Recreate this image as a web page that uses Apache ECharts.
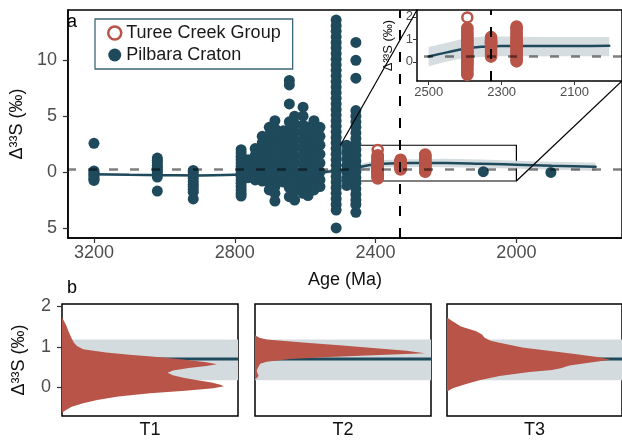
<!DOCTYPE html>
<html><head><meta charset="utf-8">
<script src="https://cdn.jsdelivr.net/npm/echarts@6/dist/echarts.min.js"></script>
<style>html,body{margin:0;padding:0;background:#fff}#c{width:622px;height:440px}</style>
</head><body><div id="c"></div>
<script>
// ---------------- DATA ----------------
// Pilbara Craton: [age (Ma), [Δ33S values]] columns
const pilbaraColumns = [
  [3200, [2.57, 0.1, -0.05, -0.2, -0.35, -0.5, -0.65, -0.75]],
  [3020, [1.25, 1.05, 0.85, 0.6, 0.4, 0.2, 0.0, -0.2, -0.45, -1.7]],
  [2918, [0.15, -0.05, -0.3, -0.55, -0.85, -1.1, -1.3, -1.55, -1.8, -2.4]],
  [2782, [2.0, 1.7, 1.4, 1.1, 0.8, 0.5, 0.2, -0.1, -0.4, -0.7, -1.0, -1.3, -1.6, -1.9, -2.15]],
  [2762, [1.1, 0.7, 0.3, -0.1, -0.5]],
  [2742, [2.1, 1.5, 0.9, 0.3, -0.3, -0.7]],
  [2722, [3.2, 2.6, 2.0, 1.4, 0.8, 0.3, -0.2, -0.8]],
  [2702, [4.0, 3.3, 2.7, 2.0, 1.4, 0.8, 0.2, -0.4, -1.0, -1.6]],
  [2686, [4.6, 3.9, 3.2, 2.5, 1.8, 1.1, 0.5, -0.1, -0.7, -1.3, -1.9, -2.6]],
  [2662, [3.7, 3.0, 2.3, 1.6, 0.9, 0.3, -0.3, -0.9]],
  [2645, [8.2, 7.8, 6.1, 4.5, 3.8, 3.1, 2.4, 1.7, 1.0, 0.4, -0.2, -0.8, -1.4, -2.2]],
  [2630, [5.0, 4.3, 3.6, 2.9, 2.2, 1.5, 0.8, 0.1, -0.5, -1.1, -1.7, -2.5]],
  [2606, [5.8, 5.0, 4.2, 3.5, 2.8, 2.1, 1.4, 0.7, 0.0, -0.6, -1.2, -1.9]],
  [2592, [4.0, 3.3, 2.6, 1.9, 1.2, 0.5, -0.2, -0.9, -1.5, -2.1]],
  [2575, [4.6, 3.9, 3.2, 2.5, 1.8, 1.1, 0.4, -0.3, -1.0, -1.6]],
  [2558, [4.0, 3.2, 2.4, 1.6, 0.8, 0.0, -0.7, -1.3]],
  [2512, [13.6, 13.1, 12.6, 12.1, 11.6, 11.1, 10.6, 10.1, 9.6, 9.1, 8.6, 8.1, 7.6, 7.1, 6.6, 6.1, 5.6, 5.1,
          4.6, 4.1, 3.6, 3.1, 2.6, 2.1, 1.6, 1.1, 0.6, 0.1, -0.4, -0.9, -1.4, -1.9, -2.4, -2.9, -3.4, -5.0]],
  [2482, [2.4, 1.8, 1.2, 0.6, 0.0, -0.6, -1.2]],
  [2456, [11.6, 10.0, 8.4, 5.5, 5.0, 4.5, 4.0, 3.5, 3.0, 2.5, 2.0, 1.5, 1.0, 0.5, 0.0, -0.5, -1.0, -1.5, -2.0, -2.5, -2.9, -3.6]],
  [2094, [0.03]],
  [1902, [-0.03]]
];

// Turee Creek Group intervals
const tureeAges = [2394, 2329, 2259];
const tureeT1 = [1.97, 1.5, 1.42, 1.34, 1.26, 1.18, 1.1, 1.02, 0.95, 0.88, 0.82, 0.76, 0.7, 0.65, 0.6, 0.55, 0.5, 0.45,
                 0.4, 0.35, 0.3, 0.25, 0.2, 0.15, 0.1, 0.05, 0.02, -0.03, -0.08, -0.14, -0.2, -0.28, -0.36, -0.44, -0.52, -0.58];
const tureeT2 = [1.1, 1.03, 0.97, 0.92, 0.88, 0.86, 0.84, 0.82, 0.8, 0.76, 0.72, 0.66, 0.6, 0.52, 0.44, 0.36, 0.3, 0.23];
const tureeT3 = [1.57, 1.5, 1.42, 1.34, 1.26, 1.18, 1.1, 1.02, 0.95, 0.88, 0.82, 0.76, 0.71, 0.67, 0.62, 0.56, 0.5,
                 0.44, 0.38, 0.3, 0.22, 0.14, 0.07, 0.02];

// Smoothed Δ33S trend (main panel)
const trendAge  = [3200, 3100, 3000, 2900, 2800, 2700, 2600, 2550, 2500, 2460, 2420, 2380, 2300, 2200, 2100, 2000, 1900, 1775];
const trendVal  = [-0.2, -0.25, -0.28, -0.3, -0.25, -0.15, -0.08, 0.0, 0.15, 0.35, 0.6, 0.75, 0.8, 0.8, 0.75, 0.66, 0.56, 0.47];
const trendLow  = [-0.32, -0.35, -0.38, -0.4, -0.35, -0.27, -0.22, -0.18, -0.08, 0.08, 0.3, 0.42, 0.45, 0.42, 0.38, 0.3, 0.2, 0.1];
const trendHigh = [-0.1, -0.15, -0.18, -0.2, -0.15, -0.03, 0.06, 0.18, 0.38, 0.62, 0.9, 1.08, 1.15, 1.18, 1.12, 1.02, 0.92, 0.84];

// Smoothed trend in the inset (2500–2000 Ma)
const insetAge  = [2500, 2450, 2400, 2350, 2300, 2200, 2100, 2005];
const insetVal  = [0.24, 0.42, 0.58, 0.67, 0.70, 0.70, 0.70, 0.71];
const insetLow  = [-0.2, 0.02, 0.18, 0.22, 0.25, 0.25, 0.25, 0.25];
const insetHigh = [0.66, 0.85, 1.05, 1.12, 1.12, 1.1, 1.1, 1.1];

const refLevel = 0.25;        // dashed horizontal reference
const boundaryAge = 2330;     // dashed vertical boundary
const zoomBox = {ageOld: 2500, ageYoung: 2000, lo: -0.8, hi: 2.4};

// Panel b: density profiles (Δ33S value, relative density)
const t1Val = [1.72, 1.6, 1.5, 1.4, 1.3, 1.2, 1.1, 1.02, 0.94, 0.86, 0.8, 0.74, 0.68, 0.62, 0.57, 0.53, 0.48, 0.42, 0.36, 0.3,
               0.24, 0.18, 0.12, 0.07, 0.03, -0.02, -0.08, -0.14, -0.22, -0.31, -0.39, -0.47, -0.55, -0.62];
const t1Den = [0.0, 0.015, 0.027, 0.035, 0.045, 0.055, 0.068, 0.085, 0.12, 0.25, 0.4, 0.56, 0.7, 0.82, 0.88, 0.82, 0.72, 0.63, 0.6, 0.63,
               0.69, 0.77, 0.85, 0.9, 0.92, 0.86, 0.7, 0.5, 0.32, 0.2, 0.12, 0.055, 0.023, 0.0];
const t2Val = [1.28, 1.22, 1.18, 1.1, 1.04, 0.97, 0.9, 0.84, 0.79, 0.74, 0.7, 0.63, 0.58, 0.5, 0.42, 0.35, 0.29, 0.24, 0.19];
const t2Den = [0.0, 0.025, 0.066, 0.29, 0.48, 0.67, 0.86, 0.966, 0.67, 0.39, 0.2, 0.066, 0.03, 0.018, 0.01, 0.014, 0.02, 0.012, 0.0];
const t3Val = [1.72, 1.62, 1.5, 1.38, 1.3, 1.22, 1.15, 1.1, 0.98, 0.9, 0.82, 0.74, 0.68, 0.62, 0.54, 0.47, 0.43, 0.38, 0.28, 0.18, 0.06, -0.02, -0.1];
const t3Den = [0.0, 0.034, 0.08, 0.167, 0.2, 0.215, 0.25, 0.30, 0.43, 0.58, 0.73, 0.87, 0.934, 0.83, 0.70, 0.65, 0.6, 0.47, 0.30, 0.185, 0.09, 0.034, 0.0];
const densityNames = ['T1', 'T2', 'T3'];
const bandB = [0.18, 1.18];
const lineB = 0.7;

const mainXTicks = [3200, 2800, 2400, 2000];
const mainYTicks = [-5, 0, 5, 10];
const insetXTicks = [2500, 2300, 2100];
const insetYTicks = [0, 1, 2];
const bYTicks = [0, 1, 2];

// ---------------- STYLE ----------------
const FONT = '"Liberation Sans", Arial, Helvetica, sans-serif';
const TEAL = '#1f4a5c';
const RED = '#b85448';
const BAND = '#d3dbdf';
const GREY = '#4d4d4d';
const YNAME = 'Δ³³S (‰)';
const plain = v => String(v);

const pilbaraData = [];
pilbaraColumns.forEach(c => c[1].forEach(v => pilbaraData.push([c[0], v])));
const tureeData = [];
[tureeT1, tureeT2, tureeT3].forEach((arr, i) => arr.forEach(v => tureeData.push([tureeAges[i], v])));

function bandSeries(xs, lo, hi, xi, yi, z) {
  return {
    type: 'custom', xAxisIndex: xi, yAxisIndex: yi, z: z, silent: true, clip: true,
    data: xs.map((x, i) => [x, lo[i], hi[i]]),
    encode: {x: 0, y: [1, 2]},
    renderItem: function (params, api) {
      if (params.dataIndex !== 0) return;
      const pts = [];
      for (let i = 0; i < xs.length; i++) pts.push(api.coord([xs[i], hi[i]]));
      for (let i = xs.length - 1; i >= 0; i--) pts.push(api.coord([xs[i], lo[i]]));
      return {type: 'polygon', shape: {points: pts}, style: {fill: BAND, opacity: 0.95}};
    }
  };
}
function densitySeries(vals, dens, gi) {
  return {
    type: 'custom', xAxisIndex: gi, yAxisIndex: gi, z: 4, silent: true, clip: true,
    data: vals.map((v, i) => [dens[i], v]),
    renderItem: function (params, api) {
      if (params.dataIndex !== 0) return;
      const pts = [api.coord([0, vals[0]])];
      for (let i = 0; i < vals.length; i++) pts.push(api.coord([dens[i], vals[i]]));
      pts.push(api.coord([0, vals[vals.length - 1]]));
      return {type: 'polygon', shape: {points: pts}, style: {fill: RED}};
    }
  };
}
function bBandSeries(gi) {
  return {
    type: 'custom', xAxisIndex: gi, yAxisIndex: gi, z: 1, silent: true, clip: true,
    data: [[0, bandB[0], bandB[1]]],
    renderItem: function (params, api) {
      const a = api.coord([0, bandB[1]]), b = api.coord([1, bandB[0]]);
      return {type: 'rect', shape: {x: a[0], y: a[1], width: b[0] - a[0], height: b[1] - a[1]}, style: {fill: BAND}};
    }
  };
}

const axisText = {fontFamily: FONT, fontSize: 18, color: GREY};
const nameText = {fontFamily: FONT, fontSize: 18, color: '#111'};

const xAxes = [
  {gridIndex: 0, type: 'value', min: 1700, max: 3274, inverse: true,
   axisLine: {show: true, onZero: false, lineStyle: {color: '#000', width: 1.5}},
   axisTick: {show: true, customValues: mainXTicks, length: 5, lineStyle: {color: '#333', width: 1.2}},
   axisLabel: {customValues: mainXTicks, margin: 6, formatter: plain, ...axisText},
   splitLine: {show: false},
   name: 'Age (Ma)', nameLocation: 'middle', nameGap: 33, nameTextStyle: nameText},
  {gridIndex: 1, type: 'value', min: 1970, max: 2532, inverse: true,
   axisLine: {show: true, onZero: false, lineStyle: {color: '#000', width: 1.5}},
   axisTick: {show: true, customValues: insetXTicks, length: 4, lineStyle: {color: '#333'}},
   axisLabel: {customValues: insetXTicks, margin: 5, formatter: plain, fontFamily: FONT, fontSize: 13, color: GREY},
   splitLine: {show: false}}
];
const yAxes = [
  {gridIndex: 0, type: 'value', min: -5.9, max: 14.5,
   axisLine: {show: true, onZero: false, lineStyle: {color: '#000', width: 1.5}},
   axisTick: {show: true, customValues: mainYTicks, length: 5, lineStyle: {color: '#333', width: 1.2}},
   axisLabel: {customValues: mainYTicks, margin: 11, formatter: v => String(Math.abs(v)), ...axisText},
   splitLine: {show: false},
   name: YNAME, nameLocation: 'middle', nameGap: 34, nameTextStyle: nameText},
  {gridIndex: 1, type: 'value', min: -0.85, max: 2.3,
   axisLine: {show: true, onZero: false, lineStyle: {color: '#000', width: 1.5}},
   axisTick: {show: true, customValues: insetYTicks, length: 4, lineStyle: {color: '#333'}},
   axisLabel: {customValues: insetYTicks, margin: 4, formatter: plain, fontFamily: FONT, fontSize: 13, color: GREY},
   splitLine: {show: false},
   name: YNAME, nameLocation: 'middle', nameGap: 22, nameTextStyle: {fontFamily: FONT, fontSize: 13, color: '#111'}}
];
const grids = [
  {left: 62, top: 10, width: 562, height: 228, show: true, borderColor: '#000', borderWidth: 1.5},
  {left: 417, top: 10, width: 209, height: 71, show: false}
];
const bLefts = [62, 255, 447];
bLefts.forEach((l, i) => {
  grids.push({left: l, top: 304, width: 176, height: 114, show: true, borderColor: '#000', borderWidth: 1.5});
  xAxes.push({gridIndex: 2 + i, type: 'value', min: 0, max: 1,
    axisLine: {show: false, onZero: false}, axisTick: {show: false}, axisLabel: {show: false}, splitLine: {show: false},
    name: densityNames[i], nameLocation: 'middle', nameGap: 5, nameTextStyle: nameText});
  yAxes.push({gridIndex: 2 + i, type: 'value', min: -0.7, max: 2.05,
    axisLine: {show: false, onZero: false},
    axisTick: {show: i === 0, customValues: bYTicks, length: 5, lineStyle: {color: '#333', width: 1.2}},
    axisLabel: {show: i === 0, customValues: bYTicks, margin: 11, formatter: plain, ...axisText},
    splitLine: {show: false},
    name: i === 0 ? YNAME : '', nameLocation: 'middle', nameGap: 34, nameTextStyle: nameText});
});

const series = [
  bandSeries(trendAge, trendLow, trendHigh, 0, 0, 1),
  {type: 'line', xAxisIndex: 0, yAxisIndex: 0, z: 1, smooth: true, symbol: 'none', silent: true,
   data: trendAge.map((a, i) => [a, trendVal[i]]), lineStyle: {color: TEAL, width: 2.5, cap: 'round'}},
  {name: 'Pilbara Craton', type: 'scatter', xAxisIndex: 0, yAxisIndex: 0, z: 2, symbolSize: 11,
   itemStyle: {color: TEAL, opacity: 1}, data: pilbaraData,
   markLine: {silent: true, symbol: 'none', label: {show: false},
     data: [
       {yAxis: refLevel, lineStyle: {color: 'rgba(0,0,0,0.5)', width: 2.5, type: [9, 12]}},
       {xAxis: boundaryAge, lineStyle: {color: '#000', width: 2, type: [10, 12]}}
     ]},
   markArea: {silent: true, itemStyle: {color: 'rgba(0,0,0,0)', borderColor: '#000', borderWidth: 1.2},
     data: [[{coord: [zoomBox.ageOld, zoomBox.hi]}, {coord: [zoomBox.ageYoung, zoomBox.lo]}]]}},
  {name: 'Turee Creek Group', type: 'scatter', xAxisIndex: 0, yAxisIndex: 0, z: 3, symbolSize: 10,
   itemStyle: {color: 'rgba(255,255,255,0)', borderColor: RED, borderWidth: 2.5, opacity: 1}, data: tureeData},
  // inset
  bandSeries(insetAge, insetLow, insetHigh, 1, 1, 1),
  {type: 'line', xAxisIndex: 1, yAxisIndex: 1, z: 1, smooth: true, symbol: 'none', silent: true,
   data: insetAge.map((a, i) => [a, insetVal[i]]), lineStyle: {color: TEAL, width: 2.5, cap: 'round'},
   markLine: {silent: true, symbol: 'none', label: {show: false},
     data: [
       {yAxis: refLevel, lineStyle: {color: 'rgba(0,0,0,0.5)', width: 2.5, type: [9, 12]}},
       {xAxis: boundaryAge, lineStyle: {color: '#000', width: 2, type: [10, 12]}}
     ]}},
  {name: 'Turee Creek Group', type: 'scatter', xAxisIndex: 1, yAxisIndex: 1, z: 3, symbolSize: 10, clip: true,
   itemStyle: {color: 'rgba(255,255,255,0)', borderColor: RED, borderWidth: 2.5, opacity: 1}, data: tureeData}
];
[[t1Val, t1Den], [t2Val, t2Den], [t3Val, t3Den]].forEach((d, i) => {
  const gi = 2 + i;
  series.push(bBandSeries(gi));
  series.push({type: 'line', xAxisIndex: gi, yAxisIndex: gi, z: 2, symbol: 'none', silent: true,
    data: [[0, lineB], [1, lineB]], lineStyle: {color: TEAL, width: 3}});
  series.push(densitySeries(d[0], d[1], gi));
});

const option = {
  animation: false,
  backgroundColor: '#fff',
  textStyle: {fontFamily: FONT},
  grid: grids, xAxis: xAxes, yAxis: yAxes, series: series,
  legend: {
    orient: 'vertical', left: 95, top: 19, padding: [5, 12, 5, 12], itemGap: 4, itemWidth: 13, itemHeight: 13,
    borderColor: '#3d6679', borderWidth: 1.3, backgroundColor: '#fff', selectedMode: false,
    textStyle: {fontFamily: FONT, fontSize: 18, color: '#1a1a1a'},
    data: [
      {name: 'Turee Creek Group', icon: 'circle', itemStyle: {color: '#fff', borderColor: RED, borderWidth: 2.5}},
      {name: 'Pilbara Craton', icon: 'circle', itemStyle: {color: TEAL, borderWidth: 0}}
    ]
  },
  graphic: [
    {type: 'text', left: 67, top: 13, z: 100, style: {text: 'a', fontFamily: FONT, fontSize: 18, fill: '#000'}},
    {type: 'text', left: 67, top: 279, z: 100, style: {text: 'b', fontFamily: FONT, fontSize: 18, fill: '#000'}}
  ]
};

const chart = echarts.init(document.getElementById('c'), null, {renderer: 'canvas'});
chart.setOption(option);

// connector lines from zoom box to inset
const p1 = chart.convertToPixel({gridIndex: 0}, [zoomBox.ageOld, zoomBox.hi]);
const q1 = chart.convertToPixel({gridIndex: 1}, [xAxes[1].max, yAxes[1].max]);
const p2 = chart.convertToPixel({gridIndex: 0}, [zoomBox.ageYoung, zoomBox.lo]);
const q2 = chart.convertToPixel({gridIndex: 1}, [xAxes[1].min, yAxes[1].min]);
chart.setOption({graphic: option.graphic.concat([
  {type: 'line', z: 50, silent: true, shape: {x1: p1[0], y1: p1[1], x2: q1[0], y2: q1[1]}, style: {stroke: '#000', lineWidth: 1.2}},
  {type: 'line', z: 50, silent: true, shape: {x1: p2[0], y1: p2[1], x2: q2[0], y2: q2[1]}, style: {stroke: '#000', lineWidth: 1.2}}
])});
</script>
</body></html>
